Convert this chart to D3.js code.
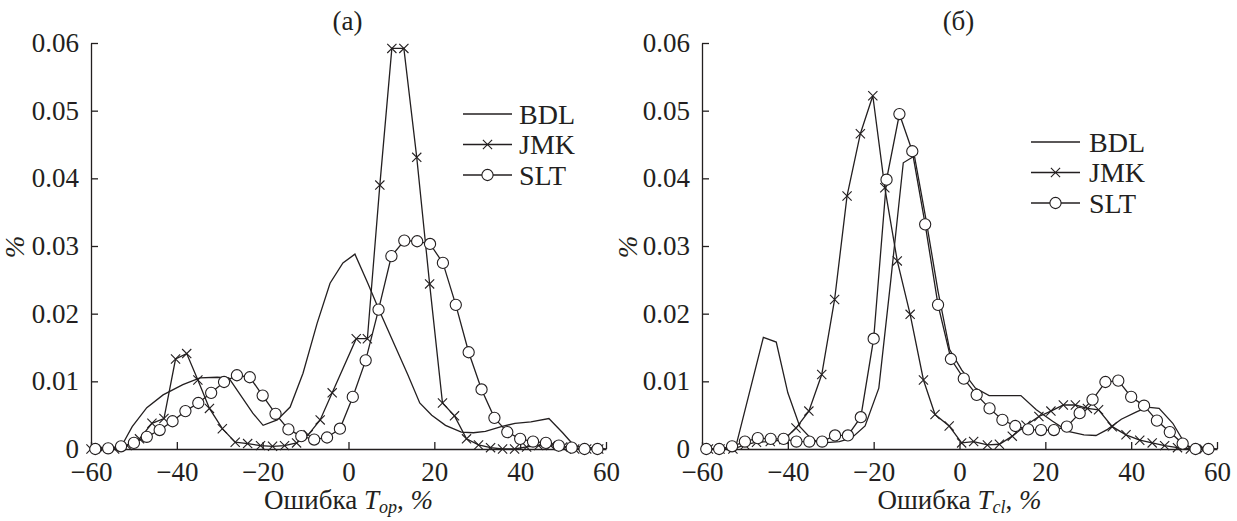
<!DOCTYPE html>
<html>
<head>
<meta charset="utf-8">
<script src="https://cdn.jsdelivr.net/npm/d3@7"></script>
<style>
  body { margin: 0; background: #fff; }
  text { font-family: "Liberation Serif", "Times New Roman", serif; fill: #231f20; }
</style>
</head>
<body>
<script>
// сетка x для SLT (кружки), общая для обоих графиков
const sltX = [-59,-56,-53,-50,-47,-44,-41,-38,-35,-32,-29,-26,-23,-20,-17,-14,-11,-8,-5,-2,
              1,4,7,10,13,16,19,22,25,28,31,34,37,40,43,46,49,52,55,58];

// (а) ошибка Top
const sltA = [0,0.0001,0.0004,0.0009,0.0018,0.0028,0.0041,0.0056,0.0068,0.0083,
              0.0099,0.0109,0.0106,0.0079,0.0052,0.0029,0.0019,0.0014,0.0017,0.0030,
              0.0077,0.0131,0.0206,0.0285,0.0308,0.0307,0.0303,0.0275,0.0213,0.0143,
              0.0088,0.0046,0.0025,0.0015,0.0011,0.0009,0.0005,0.0002,0,0];
const jmkAx = [-60,-57.2,-54.5,-51.6,-48.7,-45.8,-43,-40.3,-37.7,-35.1,-32.4,-29.4,-26.4,-23.5,
               -20.5,-17.7,-14.9,-12.1,-9.4,-6.6,-3.8,1.8,4.4,7.3,10.1,12.9,15.9,18.9,21.9,24.7,
               27.5,30.3,33.1,35.9,38.7,41.5,44.3,47.1,49.9,52.7,55.5,58.3];
const jmkAy = [0,0,0,0.0005,0.0015,0.0038,0.0045,0.0133,0.0141,0.0102,0.0060,0.0030,0.0010,0.0008,
               0.0005,0.0004,0.0005,0.0009,0.0021,0.0043,0.0083,0.0163,0.0163,0.0390,0.0592,0.0592,
               0.0431,0.0244,0.0068,0.0049,0.0015,0.0006,0.0002,0,0,0.0003,0.0005,0.0005,0.0003,0,0,0];
const bdlAx = [-60,-53,-50.4,-47,-43.2,-38.6,-34.6,-30.6,-27.9,-22.3,-19.9,-16.6,-13.6,-10.6,-7.3,
               -4.3,-1.3,1.5,4.5,7.3,11,13.8,16.6,19.4,22.6,26.3,29.1,31.9,35.6,38.8,42.5,46.7,
               49.9,52.7,60];
const bdlAy = [0,0.0003,0.0033,0.0061,0.0080,0.0095,0.0105,0.0106,0.0105,0.0053,0.0035,0.0043,
               0.0062,0.0112,0.0186,0.0245,0.0275,0.0288,0.0245,0.0203,0.0150,0.0110,0.0068,0.0050,
               0.0035,0.0025,0.0024,0.0026,0.0033,0.0038,0.0040,0.0045,0.0024,0.0004,0];

// (б) ошибка Tcl
const sltB = [0,0,0.0004,0.0011,0.0016,0.0015,0.0015,0.0011,0.0011,0.0011,
              0.0020,0.0020,0.0047,0.0163,0.0398,0.0495,0.0440,0.0332,0.0213,0.0133,
              0.0104,0.0080,0.0060,0.0043,0.0034,0.0029,0.0028,0.0028,0.0033,0.0053,
              0.0073,0.0099,0.0101,0.0077,0.0064,0.0042,0.0025,0.0008,0,0];
const jmkBx = [-58.5,-55.8,-52.8,-50,-47.3,-44.1,-40.9,-38.1,-35.1,-32.1,-29.1,-26.2,-23.1,-20.2,
               -17.4,-14.5,-11.5,-8.4,-5.7,-2.4,0.5,3.3,6.5,9.3,12.3,15.5,18.5,21.3,24.2,27,
               29.8,32.4,35.6,38.8,42,44.9,47.8,50.8,53.8,57];
const jmkBy = [0,0,0,0.0006,0.0010,0.0011,0.0014,0.0031,0.0056,0.0110,0.0221,0.0374,0.0466,0.0522,
               0.0386,0.0278,0.0199,0.0102,0.0051,0.0034,0.0009,0.0011,0.0006,0.0007,0.0019,0.0035,
               0.0048,0.0056,0.0065,0.0065,0.0060,0.0058,0.0033,0.0021,0.0013,0.0009,0.0005,0.0002,0,0];
const bdlBx = [-60,-52.5,-51.9,-45.7,-42.7,-40,-37.2,-34.4,-31.7,-28,-25.2,-22,-18.8,-16,-13.1,
               -10.5,-7.8,-5,-2.3,0.5,3.7,6.9,14.3,17.9,21.7,25.3,29,31.8,34.5,37.7,41,43.7,46.5,
               49.7,52.9,60];
const bdlBy = [0,0,0.0009,0.0165,0.0158,0.0083,0.0033,0.0014,0.0009,0.0011,0.0016,0.0034,0.0090,
               0.0250,0.0423,0.0433,0.0339,0.0233,0.0147,0.0117,0.0090,0.0079,0.0079,0.0058,0.0041,
               0.0026,0.0021,0.0020,0.0029,0.0044,0.0054,0.0062,0.0060,0.0038,0.0004,0];

const xTicks = [-60,-40,-20,0,20,40,60];
const yTicks = [0,0.01,0.02,0.03,0.04,0.05,0.06];
const seriesNames = ['BDL','JMK','SLT'];

const ink = '#231f20';
const svg = d3.select('body').append('svg')
  .attr('width', 1237).attr('height', 521);

const panels = [
  { left: 91, title: '(а)', sub: 'op', pctX: 15, legX: 463, legGap: 7, legY: 114,
    bdl: [bdlAx, bdlAy], jmk: [jmkAx, jmkAy], slt: [sltX, sltA] },
  { left: 702, title: '(б)', sub: 'cl', pctX: 628, legX: 1031, legGap: 9, legY: 142,
    bdl: [bdlBx, bdlBy], jmk: [jmkBx, jmkBy], slt: [sltX, sltB] }
];

const plotW = 515, plotTop = 43, plotBottom = 449;

// маркер "×"
const cross = 'M-4.6,-4.6L4.6,4.6M-4.6,4.6L4.6,-4.6';

panels.forEach(p => {
  const x = d3.scaleLinear().domain([-60, 60]).range([p.left, p.left + plotW]);
  const y = d3.scaleLinear().domain([0, 0.06]).range([plotBottom, plotTop]);
  const g = svg.append('g');

  // оси, засечки внутрь
  const ax = g.append('g').attr('transform', `translate(0,${plotBottom})`)
    .call(d3.axisBottom(x).tickValues(xTicks).tickSizeInner(-7).tickSizeOuter(0).tickPadding(13));
  const ay = g.append('g').attr('transform', `translate(${p.left},0)`)
    .call(d3.axisLeft(y).tickValues(yTicks).tickSizeInner(-7).tickSizeOuter(0).tickPadding(12)
      .tickFormat(d => d === 0 ? '0' : d.toFixed(2)));
  [ax, ay].forEach(a => {
    a.selectAll('path,line').attr('stroke', ink).attr('stroke-width', 1.3);
    a.selectAll('text').attr('font-size', 27).attr('fill', ink)
      .style('font-family', '"Liberation Serif", serif');
  });

  const line = d3.line().x(d => x(d[0])).y(d => y(d[1]));
  const pts = s => s[0].map((v, i) => [v, s[1][i]]);

  // BDL
  g.append('path').attr('d', line(pts(p.bdl)))
    .attr('fill', 'none').attr('stroke', ink).attr('stroke-width', 1.3);

  // JMK
  const jmk = pts(p.jmk);
  g.append('path').attr('d', line(jmk))
    .attr('fill', 'none').attr('stroke', ink).attr('stroke-width', 1.3);
  g.selectAll('.jmk').data(jmk).enter().append('path')
    .attr('class', 'jmk')
    .attr('transform', d => `translate(${x(d[0])},${y(d[1])})`)
    .attr('d', cross).attr('stroke', ink).attr('stroke-width', 1.1).attr('fill', 'none');

  // SLT
  const slt = pts(p.slt);
  g.append('path').attr('d', line(slt))
    .attr('fill', 'none').attr('stroke', ink).attr('stroke-width', 1.3);
  g.selectAll('.slt').data(slt).enter().append('circle')
    .attr('class', 'slt')
    .attr('cx', d => x(d[0])).attr('cy', d => y(d[1])).attr('r', 5.6)
    .attr('fill', '#fff').attr('stroke', ink).attr('stroke-width', 1.1);

  // заголовок панели
  g.append('text').attr('x', p.left + plotW / 2 - 1).attr('y', 21)
    .attr('text-anchor', 'middle').attr('dominant-baseline', 'central')
    .attr('font-size', 27).text(p.title);

  // подпись оси x
  const t = g.append('text').attr('x', p.left + plotW / 2).attr('y', 509)
    .attr('text-anchor', 'middle').attr('font-size', 27);
  t.append('tspan').text('Ошибка ');
  t.append('tspan').attr('font-style', 'italic').text('T');
  t.append('tspan').attr('font-style', 'italic').attr('font-size', 18).attr('dy', 4).text(p.sub);
  t.append('tspan').attr('dy', -4).text(', ');
  t.append('tspan').attr('font-style', 'italic').text('%');

  // подпись оси y
  g.append('text')
    .attr('transform', `translate(${p.pctX},247) rotate(-90)`)
    .attr('text-anchor', 'middle').attr('dominant-baseline', 'central')
    .attr('font-size', 27).attr('font-style', 'italic').text('%');

  // легенда
  const leg = g.append('g');
  seriesNames.forEach((name, i) => {
    const ly = p.legY + i * 30.5;
    leg.append('line').attr('x1', p.legX).attr('x2', p.legX + 49)
      .attr('y1', ly).attr('y2', ly).attr('stroke', ink).attr('stroke-width', 1.3);
    if (name === 'JMK') {
      leg.append('path').attr('transform', `translate(${p.legX + 24.5},${ly})`)
        .attr('d', cross).attr('stroke', ink).attr('stroke-width', 1.1).attr('fill', 'none');
    }
    if (name === 'SLT') {
      leg.append('circle').attr('cx', p.legX + 24.5).attr('cy', ly).attr('r', 5.6)
        .attr('fill', '#fff').attr('stroke', ink).attr('stroke-width', 1.1);
    }
    leg.append('text').attr('x', p.legX + 49 + p.legGap).attr('y', ly)
      .attr('dominant-baseline', 'central').attr('font-size', 28).text(name);
  });
});
</script>
</body>
</html>
